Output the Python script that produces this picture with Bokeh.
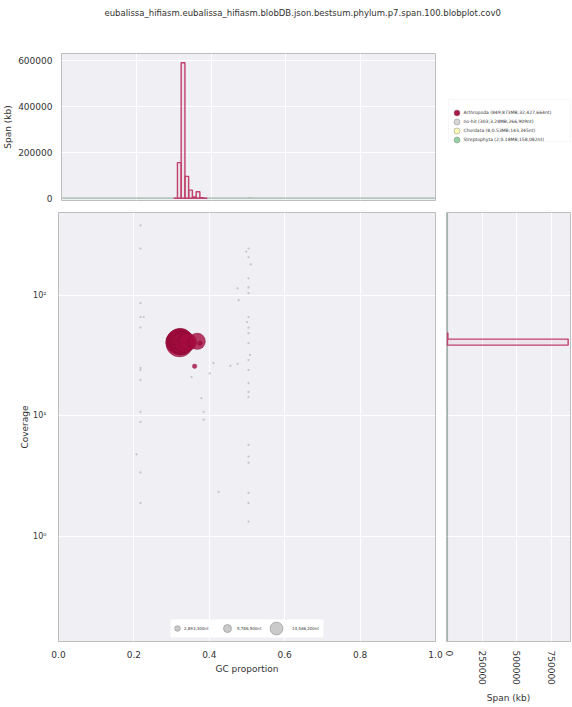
import math
from bokeh.plotting import figure
from bokeh.models import (Range1d, FixedTicker, Legend, LegendItem, BoxAnnotation,
                          ColumnDataSource, BasicTickFormatter, PrintfTickFormatter)
from bokeh.layouts import column, row
from bokeh.embed import file_html
from bokeh.resources import INLINE

TITLE = "eubalissa_hifiasm.eubalissa_hifiasm.blobDB.json.bestsum.phylum.p7.span.100.blobplot.cov0"

# ---------------- data ----------------
taxa_labels = ["Arthropoda (849;873MB;32,427,664nt)",
               "no-hit (303;3.28MB;266,909nt)",
               "Chordata (8;0.53MB;143,345nt)",
               "Streptophyta (2;0.18MB;158,082nt)"]
taxa_colors = ["#a50b3e", "#d4d4d4", "#fdf8b0", "#8ccf9e"]

# Arthropoda contigs (GC, coverage, length in Mb)
arth_gc = [0.314, 0.317, 0.319, 0.321, 0.323, 0.324, 0.325, 0.326, 0.327, 0.328,
           0.322, 0.329, 0.324, 0.326, 0.328, 0.3205, 0.327, 0.332, 0.335, 0.338,
           0.343, 0.347, 0.355, 0.368, 0.361, 0.375]
arth_cov = [41.0, 40.5, 42.0, 40.0, 41.5, 40.5, 42.5, 40.0, 41.0, 39.5,
            42.0, 41.5, 39.5, 42.0, 40.5, 41.0, 40.0, 41.0, 40.0, 42.0,
            41.0, 40.5, 40.0, 41.5, 25.8, 40.0]
arth_len_mb = [48, 52, 55, 72, 65, 58, 50, 46, 44, 40,
               38, 36, 34, 32, 30, 25, 20, 40, 32, 23,
               30, 5, 5, 26, 2, 2]

# no-hit contigs (GC, coverage)
nohit_gc = [0.2175, 0.2175, 0.2175, 0.2175, 0.2175, 0.2175, 0.2175, 0.2175, 0.2175, 0.2175,
            0.2175, 0.2175, 0.207,
            0.504, 0.504, 0.504, 0.504, 0.504, 0.504, 0.504, 0.504, 0.504, 0.504,
            0.504, 0.504, 0.504, 0.504, 0.504, 0.504, 0.504, 0.504, 0.504, 0.504,
            0.411, 0.456, 0.475, 0.401, 0.353, 0.379, 0.385, 0.385, 0.425, 0.478,
            0.475, 0.226, 0.498, 0.510, 0.500, 0.508]
nohit_cov = [379, 244, 86, 66, 54, 25, 24, 19.8, 10.8, 8.9,
             3.4, 1.9, 4.8,
             244, 206, 138, 116, 104, 66, 54, 48.5, 40, 29,
             24, 18.7, 15.8, 14.4, 5.75, 4.6, 4.1, 2.3, 1.9, 1.33,
             27.4, 26, 27, 22.5, 21, 14, 10.8, 9.3, 2.35, 91,
             114, 66, 230, 180, 60, 32]

# GC histogram (span in kb per GC bin)
gc_edges = [0.30, 0.31, 0.32, 0.33, 0.34, 0.35, 0.36, 0.37, 0.38, 0.39]
arth_gc_span = [0, 155000, 590000, 95000, 35000, 5000, 28000, 2000, 0]
nohit_gc_edges = [0.0, 0.21, 0.22, 0.50, 0.51, 1.0]
nohit_gc_span = [0, 600, 0, 1200, 0]

# coverage histogram (span in kb per coverage bin)
cov_edges = [38.6, 43.3, 48.6]
arth_cov_span = [873000, 3000]
nohit_cov_edges = [0.13, 1.0, 10.0, 100.0, 500.0]
nohit_cov_span = [0, 0, 0, 0]

# size legend
size_legend_labels = ["2,893,300nt", "5,786,500nt", "14,466,200nt"]

# ticks
gc_ticks = [0.0, 0.2, 0.4, 0.6, 0.8, 1.0]
cov_ticks = [1, 10, 100]
cov_tick_labels = {1: "10\u2070", 10: "10\u00b9", 100: "10\u00b2"}
span_ticks = [0, 200000, 400000, 600000]
span_ticks_right = [0, 250000, 500000, 750000]

# ---------------- styling ----------------
FONT = "DejaVu Sans"
BG = "#efeff4"
OUTLINE = "#bdbdbd"
HIST_LINE = "#c2406c"
TEXT = "#333333"
NAN = float("nan")


def style(p):
    p.background_fill_color = BG
    p.border_fill_color = "white"
    p.outline_line_color = OUTLINE
    p.outline_line_width = 1
    for ax in p.axis:
        ax.axis_line_color = None
        ax.major_tick_line_color = None
        ax.minor_tick_line_color = None
        ax.major_label_text_font = FONT
        ax.major_label_text_font_size = "9px"
        ax.major_label_text_color = TEXT
        ax.axis_label_text_font = FONT
        ax.axis_label_text_font_size = "9px"
        ax.axis_label_text_font_style = "normal"
        ax.axis_label_text_color = TEXT
        ax.major_label_standoff = 3
        ax.axis_label_standoff = 5
    for g in p.grid:
        g.grid_line_color = "white"
        g.grid_line_width = 1


gc_range = Range1d(0.0, 1.0)
cov_range = Range1d(0.135, 485)

# ---- title figure ----
tfig = figure(width=572, height=48, output_backend="svg", toolbar_location=None,
              x_range=Range1d(0, 1), y_range=Range1d(0, 1),
              min_border_left=0, min_border_right=0, min_border_top=4, min_border_bottom=0)
tfig.title.text = TITLE
tfig.title.align = "left"
tfig.title.offset = 104
tfig.title.text_font = FONT
tfig.title.text_font_size = "8.5px"
tfig.title.text_font_style = "normal"
tfig.title.text_color = TEXT
tfig.axis.visible = False
tfig.grid.visible = False
tfig.outline_line_color = None
tfig.background_fill_color = "white"

# ---- top histogram ----
top = figure(width=445, height=157, output_backend="svg", toolbar_location=None,
             x_range=gc_range, y_range=Range1d(-10000, 630000),
             min_border_left=58, min_border_right=10, min_border_top=5, min_border_bottom=5)
top.quad(left=nohit_gc_edges[:-1], right=nohit_gc_edges[1:], bottom=0, top=nohit_gc_span,
         fill_color=None, line_color="#9fb3a8", line_width=1.2)
top.quad(left=gc_edges[:-1], right=gc_edges[1:], bottom=0, top=arth_gc_span,
         fill_color=HIST_LINE, fill_alpha=0.06, line_color=HIST_LINE, line_width=1.4)
style(top)
top.xaxis.visible = False
top.yaxis.ticker = FixedTicker(ticks=span_ticks)
top.yaxis.formatter = BasicTickFormatter(use_scientific=False)
top.yaxis.axis_label = "Span (kb)"
top.yaxis.axis_label_standoff = 2
top.xgrid.ticker = FixedTicker(ticks=gc_ticks)

# ---- legend figure ----
lfig = figure(width=127, height=157, output_backend="svg", toolbar_location=None,
              x_range=Range1d(0, 1), y_range=Range1d(0, 1),
              min_border_left=0, min_border_right=0, min_border_top=0, min_border_bottom=0)
lfig.axis.visible = False
lfig.grid.visible = False
lfig.outline_line_color = None
lfig.background_fill_color = "white"
lfig.add_layout(BoxAnnotation(left=3, right=125, bottom=59, top=101,
                              left_units="screen", right_units="screen",
                              bottom_units="screen", top_units="screen",
                              fill_color="white", fill_alpha=1.0,
                              line_color="#e4e4e4", line_width=1))
for i, (lab, col) in enumerate(zip(taxa_labels, taxa_colors)):
    r = lfig.scatter(x=[NAN], y=[NAN], marker="circle", fill_color=col, line_color="#8a8a8a",
                     line_width=0.5, fill_alpha=0.95)
    yc = 88 - 9 * i
    lg = Legend(items=[LegendItem(label=lab, renderers=[r])], location=(3.5, yc - 7.5),
                glyph_height=15, glyph_width=15, padding=0, margin=0, label_standoff=0,
                label_text_font=FONT, label_text_font_size="4.5px", label_height=6,
                label_text_color=TEXT, background_fill_alpha=0.0, border_line_color=None)
    lfig.add_layout(lg, "center")

# ---- main scatter ----
main = figure(width=445, height=500, output_backend="svg", toolbar_location=None,
              x_range=gc_range, y_range=cov_range, y_axis_type="log",
              min_border_left=58, min_border_right=10, min_border_top=7, min_border_bottom=61)
main.scatter(x=nohit_gc, y=nohit_cov, size=2.2, marker="circle", fill_color="#9a9a9a",
             fill_alpha=0.5, line_color=None)
arth_size = [0.00323 * math.sqrt(v * 1e6) for v in arth_len_mb]
src = ColumnDataSource(dict(gc=arth_gc, cov=arth_cov, size=arth_size))
main.scatter(x="gc", y="cov", size="size", source=src, marker="circle",
             fill_color=taxa_colors[0], fill_alpha=0.8, line_color="#7a0a30",
             line_alpha=0.5, line_width=0.6)
style(main)
main.xaxis.ticker = FixedTicker(ticks=gc_ticks)
main.xaxis.formatter = PrintfTickFormatter(format="%.1f")
main.xaxis.axis_label = "GC proportion"
main.xaxis.axis_label_standoff = 3
main.yaxis.ticker = FixedTicker(ticks=cov_ticks)
main.yaxis.major_label_overrides = cov_tick_labels
main.yaxis.major_label_text_font_size = "8px"
main.yaxis.major_label_standoff = 6
main.yaxis.axis_label = "Coverage"
main.yaxis.axis_label_standoff = 0
main.xgrid.ticker = FixedTicker(ticks=gc_ticks)
main.ygrid.ticker = FixedTicker(ticks=cov_ticks)

# size legend
main.add_layout(BoxAnnotation(left=112, right=265, bottom=4, top=22,
                              left_units="screen", right_units="screen",
                              bottom_units="screen", top_units="screen",
                              fill_color="white", fill_alpha=1.0, line_color=None))
size_specs = [(14, 6, 112, 0), (20, 3, 159, -4), (32, -3, 202, -11)]
for lab, (g, yloc, xloc, stand) in zip(size_legend_labels, size_specs):
    r = main.scatter(x=[NAN], y=[NAN], marker="circle", fill_color="#bdbdbd", fill_alpha=0.8,
                     line_color="#8c8c8c", line_width=0.6)
    sl = Legend(items=[LegendItem(label=lab, renderers=[r])], location=(xloc, yloc),
                glyph_height=g, glyph_width=g, padding=0, margin=0, label_standoff=stand,
                label_text_font=FONT, label_text_font_size="4px", label_height=6,
                label_text_color=TEXT, background_fill_alpha=0.0, border_line_color=None)
    main.add_layout(sl, "center")

# ---- right histogram ----
right = figure(width=127, height=500, output_backend="svg", toolbar_location=None,
               x_range=Range1d(-7000, 890000), y_range=cov_range, y_axis_type="log",
               min_border_left=1, min_border_right=2, min_border_top=7, min_border_bottom=61)
right.quad(left=0, right=nohit_cov_span, bottom=nohit_cov_edges[:-1], top=nohit_cov_edges[1:],
           fill_color=None, line_color="#9fb3a8", line_width=1.2)
right.quad(left=0, right=arth_cov_span, bottom=cov_edges[:-1], top=cov_edges[1:],
           fill_color=HIST_LINE, fill_alpha=0.06, line_color=HIST_LINE, line_width=1.4)
style(right)
right.yaxis.visible = False
right.xaxis.ticker = FixedTicker(ticks=span_ticks_right)
right.xaxis.formatter = BasicTickFormatter(use_scientific=False)
right.xaxis.major_label_orientation = -math.pi / 2
right.xaxis.axis_label = "Span (kb)"
right.ygrid.ticker = FixedTicker(ticks=cov_ticks)

layout = column(tfig,
                row(top, lfig, spacing=0),
                row(main, right, spacing=0),
                spacing=0)

open("out.html", "w").write(file_html(layout, INLINE))
